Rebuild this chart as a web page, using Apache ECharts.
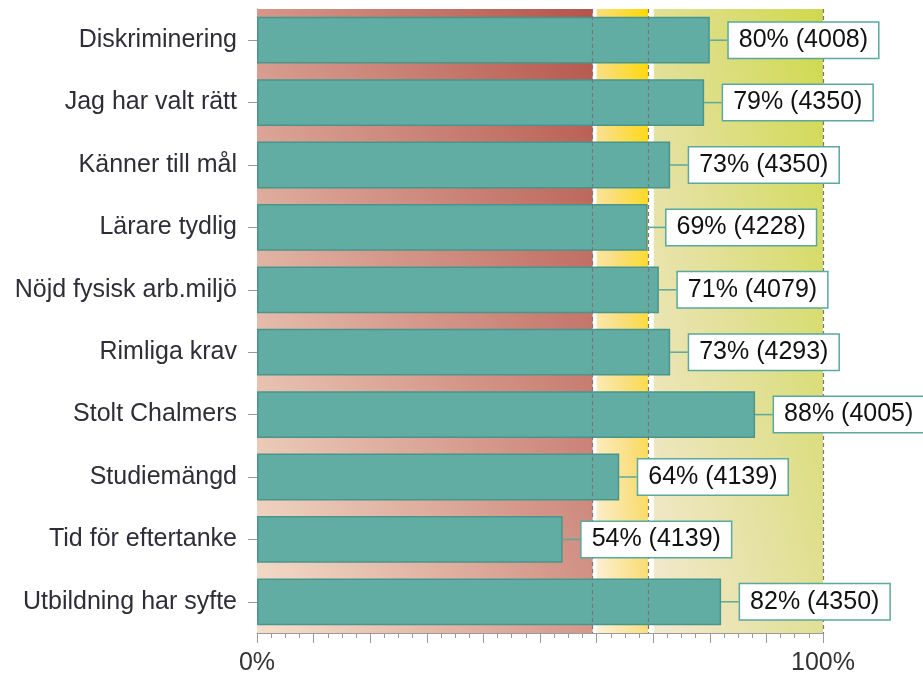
<!DOCTYPE html>
<html>
<head>
<meta charset="utf-8">
<script src="https://cdn.jsdelivr.net/npm/echarts@6/dist/echarts.min.js"></script>
<style>
  html, body { margin: 0; padding: 0; background: #fff; }
  #main { width: 923px; height: 679px; }
</style>
</head>
<body>
<div id="main"></div>
<script>
// kategorier uppifrån och ned
const categories = [
  'Diskriminering',
  'Jag har valt rätt',
  'Känner till mål',
  'Lärare tydlig',
  'Nöjd fysisk arb.miljö',
  'Rimliga krav',
  'Stolt Chalmers',
  'Studiemängd',
  'Tid för eftertanke',
  'Utbildning har syfte'
]
const percent = [80, 79, 73, 69, 71, 73, 88, 64, 54, 82]
const answers = [4008, 4350, 4350, 4228, 4079, 4293, 4005, 4139, 4139, 4350]
// bakgrundszoner (procent)
const zones = [
  { from: 0, to: 59.3, colors: ['#f5e0cc', '#d4978a', '#b4544a'] },
  { from: 60, to: 69.1, colors: ['#fcf1da', '#fade7c', '#ffd800'] },
  { from: 70.1, to: 100, colors: ['#f3e9d0', '#e1e095', '#cfd94c'] }
]
const dashLines = [59.3, 69.1, 100]
const xTickLabels = { 0: '0%', 100: '100%' }

const gridW = 566
const gridH = 624
const font = "'Liberation Sans', Arial, sans-serif"

// diagonal gradient, ljus nere till vänster, mörk uppe till höger
const diagGradient = (wFrac, colors) => {
  let w = gridW * wFrac
  let h = gridH
  let a = (h * h) / (w * w + h * h)
  let b = (w * w) / (w * w + h * h)
  return new echarts.graphic.LinearGradient(0.5 - a, 0.5 + b, 0.5 + a, 0.5 - b, [
    { offset: 0, color: colors[0] },
    { offset: 0.5, color: colors[1] },
    { offset: 1, color: colors[2] }
  ])
}

let myChart = echarts.init(document.getElementById('main'))

const option = {
  animation: false,
  grid: {
    left: 257,
    right: 100,
    top: 9,
    bottom: 46
  },
  xAxis: {
    type: 'value',
    min: 0,
    max: 100,
    interval: 10,
    axisLine: { show: true, lineStyle: { color: '#9a9a9a', width: 1 } },
    axisTick: { show: true, length: 10, lineStyle: { color: '#9a9a9a' } },
    minorTick: { show: true, splitNumber: 4, length: 5, lineStyle: { color: '#9a9a9a' } },
    splitLine: { show: false },
    axisLabel: {
      margin: 18,
      fontSize: 25,
      fontFamily: font,
      color: '#333',
      formatter: (v) => xTickLabels[v] || ''
    }
  },
  yAxis: {
    type: 'category',
    inverse: true,
    data: categories,
    axisLine: { show: true, lineStyle: { color: '#9a9a9a' } },
    axisTick: { show: true, alignWithLabel: true, length: 9, lineStyle: { color: '#9a9a9a' } },
    axisLabel: {
      margin: 20,
      fontSize: 25,
      fontFamily: font,
      color: '#2e2e38',
      padding: [3, 0, 0, 0]
    }
  },
  series: [
    // bakgrund
    {
      type: 'line',
      data: [],
      z: 1,
      silent: true,
      markArea: {
        silent: true,
        data: zones.map((zn) => [
          { xAxis: zn.from, itemStyle: { color: diagGradient((zn.to - zn.from) / 100, zn.colors) } },
          { xAxis: zn.to }
        ])
      }
    },
    // staplar
    {
      type: 'bar',
      z: 2,
      data: percent,
      barCategoryGap: '25%',
      barGap: '-100%',
      itemStyle: {
        color: '#61ada4',
        borderColor: '#4a958b',
        borderWidth: 1.5
      }
    },
    // streckade gränslinjer
    {
      type: 'line',
      data: [],
      z: 5,
      silent: true,
      markLine: {
        silent: true,
        z: 5,
        symbol: 'none',
        label: { show: false },
        lineStyle: { color: '#777', type: [4, 3], width: 1.2 },
        data: dashLines.map((v) => ({ xAxis: v }))
      }
    },
    // etiketter ovanpå linjerna
    {
      type: 'bar',
      z: 8,
      data: percent,
      barCategoryGap: '25%',
      barGap: '-100%',
      silent: true,
      itemStyle: { color: 'rgba(0,0,0,0)' },
      label: {
        show: true,
        position: 'right',
        distance: 0,
        formatter: (p) => p.value + '% (' + answers[p.dataIndex] + ')',
        fontSize: 25,
        fontFamily: font,
        color: '#111',
        backgroundColor: '#fff',
        borderColor: '#5aa89e',
        borderWidth: 1.5,
        padding: [5, 10, 3, 10],
        lineHeight: 27
      },
      labelLayout: { dx: 19 },
      labelLine: {
        show: true,
        lineStyle: { color: '#5aa89e', width: 1.5 }
      }
    }
  ]
}

myChart.setOption(option)
</script>
</body>
</html>
